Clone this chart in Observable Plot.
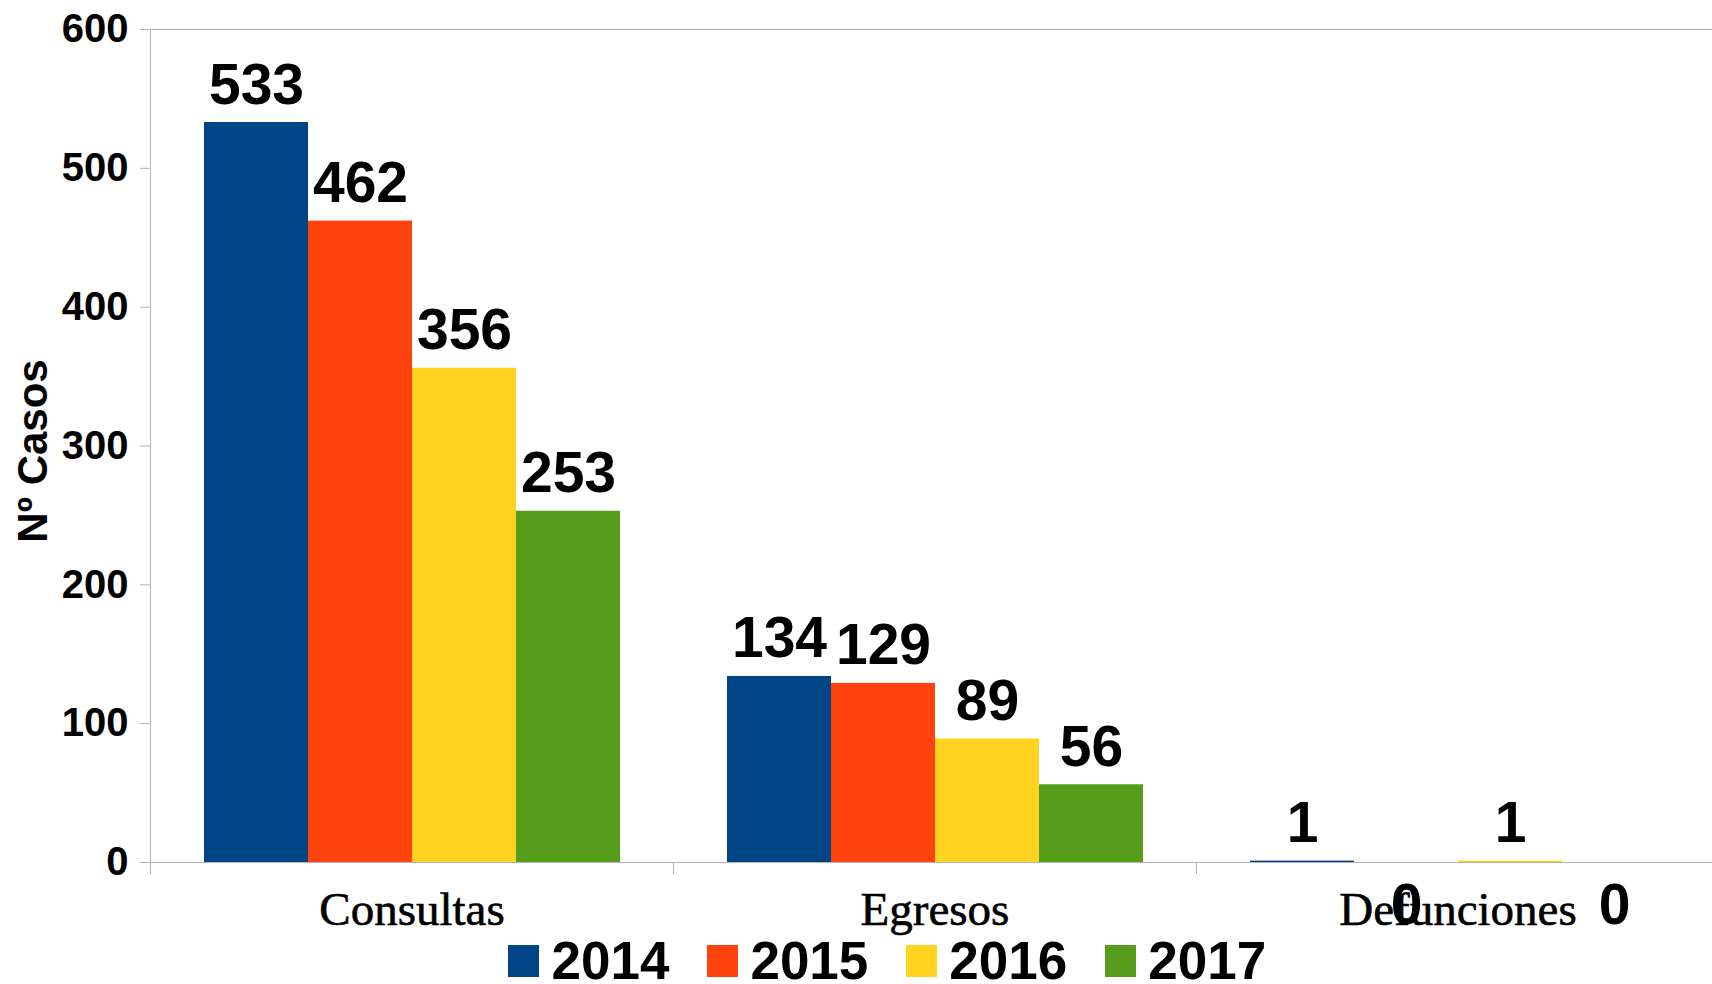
<!DOCTYPE html>
<html><head><meta charset="utf-8">
<script src="https://cdn.jsdelivr.net/npm/d3@7"></script>
<script src="https://cdn.jsdelivr.net/npm/@observablehq/plot@0.6"></script>
<style>
html,body{margin:0;padding:0;background:#fff;overflow:hidden;}
#legend{height:46px;font:bold 53px "Liberation Sans",Arial,sans-serif;line-height:46px;white-space:nowrap;padding-left:508px;color:#000;}
.item{display:inline-block;margin-right:37.5px;}
.sw{display:inline-block;width:31px;height:32px;margin-right:12.5px;margin-bottom:2px;}
</style></head><body><div id="chart"></div><div id="legend"></div>
<script>
const categories = ["Consultas", "Egresos", "Defunciones"];
const years = ["2014", "2015", "2016", "2017"];
const v2014 = [533, 134, 1];
const v2015 = [462, 129, 0];
const v2016 = [356, 89, 1];
const v2017 = [253, 56, 0];
const colors = ["#004586", "#ff420e", "#ffd320", "#579d1c"];
const yTicks = [0, 100, 200, 300, 400, 500, 600];
const yLabel = "Nº Casos";

const series = [v2014, v2015, v2016, v2017];
const data = [];
categories.forEach((c, i) => years.forEach((y, j) => data.push({cat: c, year: y, value: series[j][i]})));

const gray = "#b3b3b3";
const tickShape = {draw(context, l) { context.moveTo(0, 0); context.lineTo(0, -l); }};

const chart = Plot.plot({
  width: 1712, height: 938,
  marginLeft: 150, marginRight: -7, marginTop: 29, marginBottom: 76,
  style: {fontFamily: '"Liberation Sans", Arial, sans-serif', background: "white", color: "black"},
  fx: {domain: categories, padding: 0, label: null},
  x: {domain: years, paddingInner: 0, paddingOuter: 0.5, axis: null},
  y: {domain: [0, 600], label: null},
  color: {domain: years, range: colors},
  marks: [
    Plot.ruleY([0, 600], {stroke: gray}),
    Plot.frame({anchor: "left", stroke: gray, facetAnchor: "left"}),
    Plot.vector(categories, {fx: d => d, frameAnchor: "bottom-left", length: 11, rotate: 180, anchor: "start", shape: tickShape, stroke: gray, strokeWidth: 1}),
    Plot.axisY(yTicks, {tickSize: 10, tickPadding: 12, stroke: gray, fontSize: 40, fontWeight: "bold", label: null}),
    Plot.text([yLabel], {frameAnchor: "left", textAnchor: "middle", rotate: -90, dx: -117, dy: 5, fontSize: 42, fontWeight: "bold", facetAnchor: "left", fill: "black"}),
    Plot.barY(data, {fx: "cat", x: "year", y: "value", fill: "year"}),
    Plot.axisFx({anchor: "bottom", tickSize: 0, tickPadding: 29, fontSize: 47, fontFamily: '"Liberation Serif", "Times New Roman", serif', label: null, fill: "black", textStroke: "black", textStrokeWidth: 0.6}),
    Plot.text(data.filter(d => d.value > 0), {fx: "cat", x: "year", y: "value", text: d => String(d.value), dy: -19, lineAnchor: "bottom", fontSize: 57, fontWeight: "bold", fill: "black"}),
    Plot.text(data.filter(d => d.value === 0), {fx: "cat", x: "year", y: "value", text: d => String(d.value), dy: 61, lineAnchor: "bottom", fontSize: 57, fontWeight: "bold", fill: "black"})
  ]
});
document.getElementById("chart").append(chart);

const legend = document.getElementById("legend");
years.forEach((y, i) => {
  const item = document.createElement("span");
  item.className = "item";
  const sw = document.createElement("span");
  sw.className = "sw";
  sw.style.background = colors[i];
  item.appendChild(sw);
  item.appendChild(document.createTextNode(y));
  legend.appendChild(item);
});
</script>
</body></html>
